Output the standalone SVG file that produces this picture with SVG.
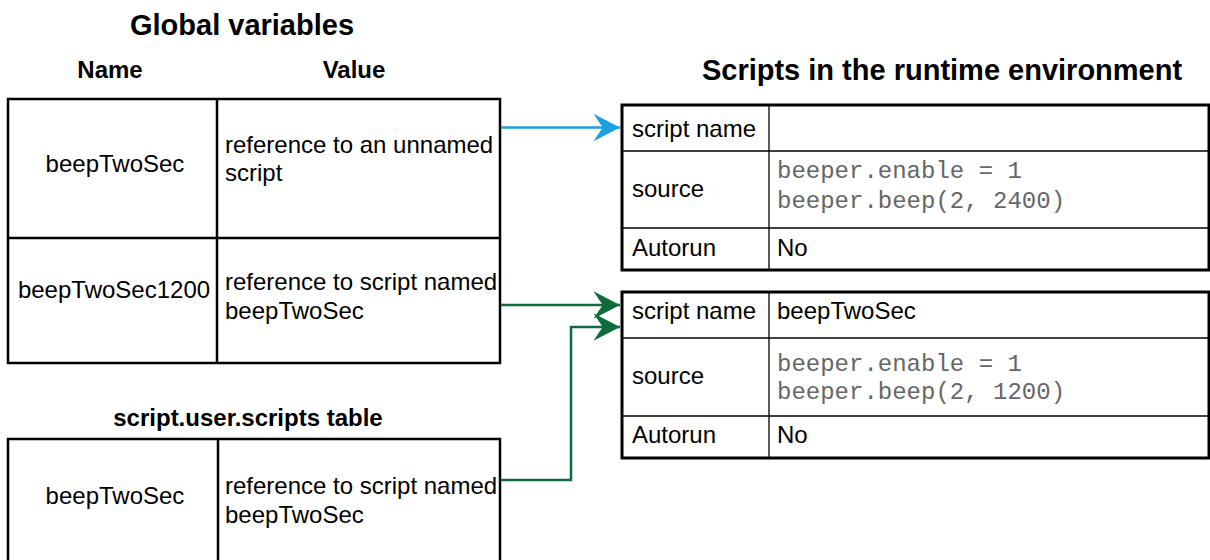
<svg xmlns="http://www.w3.org/2000/svg" width="1210" height="560" viewBox="0 0 1210 560">
<style>
text{font-family:"Liberation Sans",Arial,sans-serif;fill:#000}
.t{font-size:24px}
.h{font-size:24px;font-weight:bold}
.title{font-size:29px;font-weight:bold}
.code{font-family:"Liberation Mono","Courier New",monospace;font-size:24px;fill:#666}
.c{text-anchor:middle}
.lt{fill:#fff;stroke:#000;stroke-width:2.5}
.li{stroke:#000;stroke-width:2.5}
.rt{fill:#fff;stroke:#000;stroke-width:3}
.ri{stroke:#000;stroke-width:1.3}
.conn{fill:none;stroke-width:2.5}
</style>
<defs>
<marker id="ab" markerUnits="userSpaceOnUse" markerWidth="30" markerHeight="30" viewBox="-25 -13 26 26" refX="0" refY="0" orient="auto">
<path d="M0,0 L-23,-12 L-15,0 L-23,12 Z" fill="#1BA1E2"/>
</marker>
<marker id="ag" markerUnits="userSpaceOnUse" markerWidth="30" markerHeight="30" viewBox="-25 -13 26 26" refX="0" refY="0" orient="auto">
<path d="M0,0 L-23,-12 L-15,0 L-23,12 Z" fill="#0E6B3B"/>
</marker>
</defs>
<rect width="1210" height="560" fill="#fff"/>
<g id="titles">
<text class="title c" x="242" y="35">Global variables</text>
<text class="h c" x="110" y="78">Name</text>
<text class="h c" x="354" y="78">Value</text>
<text class="title c" x="942" y="80">Scripts in the runtime environment</text>
<text class="h c" x="248" y="426">script.user.scripts table</text>
</g>
<g id="global-table">
<rect class="lt" x="8" y="99" width="492" height="264"/>
<line class="li" x1="217" y1="99" x2="217" y2="363"/>
<line class="li" x1="8" y1="238" x2="500" y2="238"/>
<text class="t c" x="115" y="172">beepTwoSec</text>
<text class="t" x="225" y="153">reference to an unnamed</text>
<text class="t" x="225" y="181">script</text>
<text class="t c" x="114" y="298">beepTwoSec1200</text>
<text class="t" x="225" y="290">reference to script named</text>
<text class="t" x="225" y="319">beepTwoSec</text>
</g>
<g id="user-scripts-table">
<rect class="lt" x="8" y="439" width="492" height="170"/>
<line class="li" x1="218" y1="439" x2="218" y2="560"/>
<text class="t c" x="115" y="504">beepTwoSec</text>
<text class="t" x="225" y="494">reference to script named</text>
<text class="t" x="225" y="523">beepTwoSec</text>
</g>
<g id="script-unnamed">
<rect class="rt" x="622" y="105" width="587" height="165"/>
<line class="ri" x1="769" y1="105" x2="769" y2="270"/>
<line class="ri" x1="622" y1="151" x2="1209" y2="151"/>
<line class="ri" x1="622" y1="228" x2="1209" y2="228"/>
<text class="t" x="632" y="137">script name</text>
<text class="t" x="632" y="197">source</text>
<text class="code" x="777" y="178">beeper.enable = 1</text>
<text class="code" x="777" y="208">beeper.beep(2, 2400)</text>
<text class="t" x="632" y="256">Autorun</text>
<text class="t" x="777" y="256">No</text>
</g>
<g id="script-beepTwoSec">
<rect class="rt" x="622" y="292" width="587" height="166"/>
<line class="ri" x1="769" y1="292" x2="769" y2="458"/>
<line class="ri" x1="622" y1="338" x2="1209" y2="338"/>
<line class="ri" x1="622" y1="416" x2="1209" y2="416"/>
<text class="t" x="632" y="319">script name</text>
<text class="t" x="777" y="319">beepTwoSec</text>
<text class="t" x="632" y="384">source</text>
<text class="code" x="777" y="371">beeper.enable = 1</text>
<text class="code" x="777" y="399">beeper.beep(2, 1200)</text>
<text class="t" x="632" y="443">Autorun</text>
<text class="t" x="777" y="443">No</text>
</g>
<g id="connectors">
<path class="conn" d="M501,127.5 H620" stroke="#1BA1E2" marker-end="url(#ab)"/>
<path class="conn" d="M501,305 H620" stroke="#0E6B3B" marker-end="url(#ag)"/>
<path class="conn" d="M501,480 H571 V327 H620" stroke="#0E6B3B" marker-end="url(#ag)"/>
</g>
</svg>
